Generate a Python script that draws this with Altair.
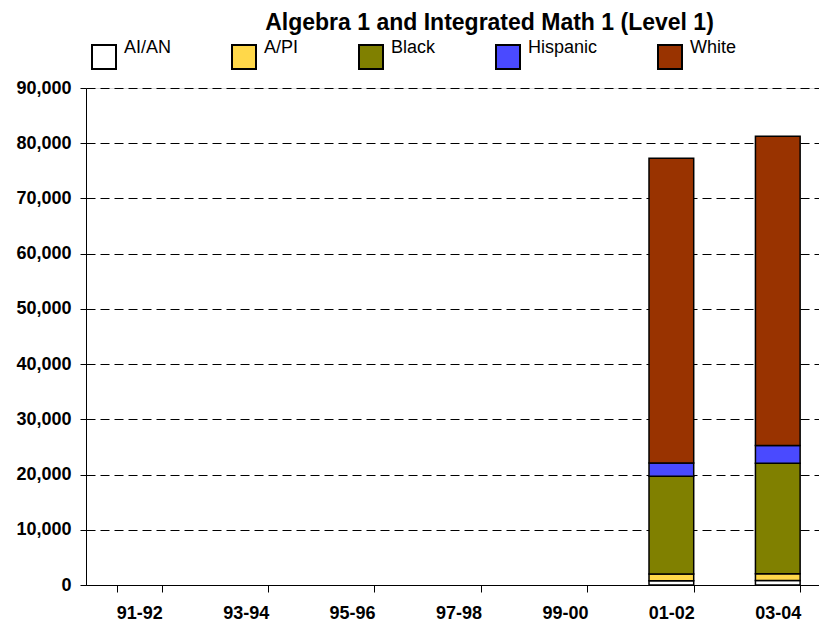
import altair as alt
import pandas as pd

years = ["91-92", "93-94", "95-96", "97-98", "99-00", "01-02", "03-04"]
groups = ["AI/AN", "A/PI", "Black", "Hispanic", "White"]
colors = ["#FFFFFF", "#FFD84A", "#808000", "#4A4AFF", "#993300"]

data_years = ["01-02", "03-04"]
ai_an = [750, 800]
a_pi = [1250, 1250]
black = [17700, 20000]
hispanic = [2400, 3200]
white = [55200, 56000]

series = {"AI/AN": ai_an, "A/PI": a_pi, "Black": black, "Hispanic": hispanic, "White": white}
rows = []
for gi, g in enumerate(groups):
    for yi, yr in enumerate(data_years):
        rows.append({"year": yr, "group": g, "order": gi, "value": series[g][yi]})
df = pd.DataFrame(rows)

FONT = "Liberation Sans"

chart = alt.Chart(df).mark_bar(stroke="black", strokeWidth=1.5).encode(
    x=alt.X("year:N", scale=alt.Scale(domain=years, paddingInner=0.58, paddingOuter=0.29),
            axis=alt.Axis(title=None, labelAngle=0, labelFont=FONT, labelFontSize=18,
                          labelFontWeight="bold", labelColor="black", tickBand="extent",
                          tickSize=7, tickColor="black", domainColor="black",
                          labelPadding=12, grid=False)),
    y=alt.Y("value:Q", stack="zero",
            scale=alt.Scale(domain=[0, 90000], nice=False),
            axis=alt.Axis(title=None, values=list(range(0, 90001, 10000)), format=",d",
                          labelFont=FONT, labelFontSize=18, labelFontWeight="bold",
                          labelColor="black", tickSize=6, tickColor="black",
                          domainColor="black", labelPadding=9, grid=True,
                          gridColor="black", gridDash=[9, 5], gridWidth=1)),
    fill=alt.Fill("group:N", scale=alt.Scale(domain=groups, range=colors),
                  legend=alt.Legend(title=None, orient="none", legendX=5, legendY=-44,
                                    direction="horizontal", symbolType="square",
                                    symbolSize=576, symbolStrokeColor="black",
                                    symbolStrokeWidth=2, symbolOpacity=1,
                                    labelFont=FONT, labelFontSize=18, labelColor="black",
                                    labelBaseline="bottom", labelOffset=7,
                                    columnPadding=56)),
    order=alt.Order("order:Q"),
).properties(
    width=745, height=497,
    title=alt.TitleParams("Algebra 1 and Integrated Math 1 (Level 1)", font=FONT,
                          fontSize=23, fontWeight="bold", color="black",
                          anchor="middle", dx=31, offset=9),
    autosize=alt.AutoSizeParams(type="none"),
    padding={"left": 78, "top": 80, "right": -12, "bottom": 36},
).configure_view(stroke=None).configure(background="white")

chart.save("out.html", embed_options={"renderer": "svg", "actions": False})
